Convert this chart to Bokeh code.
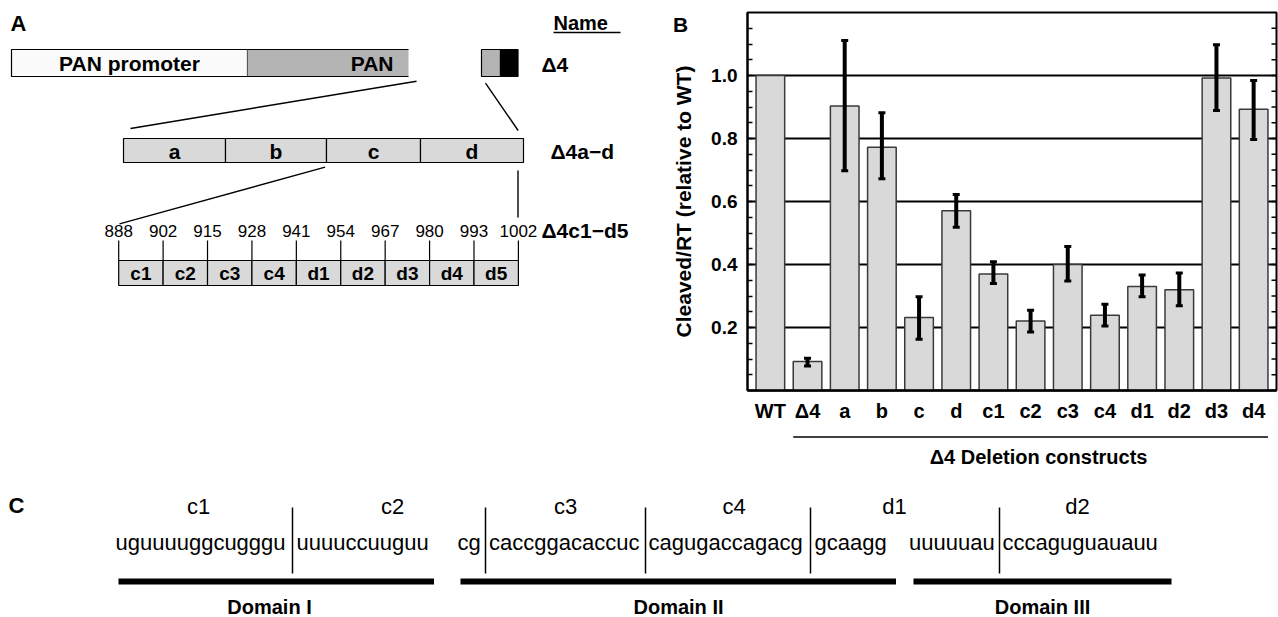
import math
from bokeh.plotting import figure
from bokeh.models import (ColumnDataSource, Range1d, FactorRange, FixedTicker,
                          Whisker, TeeHead, PrintfTickFormatter)
from bokeh.layouts import column, row
from bokeh.core.properties import value
from bokeh.embed import file_html
from bokeh.resources import INLINE

# ---------------- data ----------------
constructs = ["WT", "Δ4", "a", "b", "c", "d", "c1", "c2", "c3", "c4", "d1", "d2", "d3", "d4"]
cleaved = [1.00, 0.092, 0.903, 0.772, 0.232, 0.571, 0.370, 0.221, 0.400, 0.239, 0.330, 0.320, 0.992, 0.893]
err_low = [None, 0.078, 0.698, 0.672, 0.163, 0.518, 0.340, 0.186, 0.348, 0.205, 0.298, 0.269, 0.889, 0.797]
err_high = [None, 0.102, 1.111, 0.882, 0.298, 0.622, 0.409, 0.255, 0.457, 0.274, 0.367, 0.373, 1.098, 0.984]
y_tick_values = [0.2, 0.4, 0.6, 0.8, 1.0]
y_axis_title = "Cleaved/RT (relative to WT)"
x_group_title = "Δ4 Deletion constructs"

construct_row_names = ["Δ4", "Δ4a−d", "Δ4c1−d5"]
pan_parts = ["PAN promoter", "PAN"]
quarter_names = ["a", "b", "c", "d"]
sub_names = ["c1", "c2", "c3", "c4", "d1", "d2", "d3", "d4", "d5"]
sub_bounds = [888, 902, 915, 928, 941, 954, 967, 980, 993, 1002]

seq_labels = ["c1", "c2", "c3", "c4", "d1", "d2"]
seq_pieces = ["uguuuuggcugggu", "uuuuccuuguu", "cg", "caccggacaccuc",
              "cagugaccagacg", "gcaagg", "uuuuuau", "cccaguguauauu"]
domain_names = ["Domain I", "Domain II", "Domain III"]
panel_letters = ["A", "B", "C"]

# ---------------- layout / style constants ----------------
FONT = value("Liberation Sans")
PAGE_W, PAGE_H = 1278, 617
TOP_H = 434
A_W = 700
B_W = PAGE_W - A_W
B_LEFT, B_RIGHT, B_TOP, B_BOTTOM = 47, 2, 12, 44
PAD = 0.115          # category padding on each side
BAR_W = 0.77
Y_MAX = 1.2
BAR_FILL = "#d9d9d9"
PAN_FILL = "#b4b4b4"

frame_left = A_W + B_LEFT
frame_right = PAGE_W - B_RIGHT
ppu = (frame_right - frame_left) / (len(constructs) + 2 * PAD)
frame_top = B_TOP
frame_bottom = TOP_H - B_BOTTOM


def txt(p, xs, ys, labels, size, bold=False, align="center", baseline="middle", angle=0):
    p.text(x=xs, y=ys, text=labels, text_font=FONT, text_font_size=size,
           text_font_style="bold" if bold else "normal", text_align=align,
           text_baseline=baseline, text_color="black", angle=angle)


# ================= Panel A (plus B's letter and y title) =================
# same top/bottom borders as panel B, so the row's frame alignment keeps a 1:1 pixel map
fa = figure(width=A_W, height=TOP_H, x_range=Range1d(0, A_W),
            y_range=Range1d(frame_bottom, frame_top), toolbar_location=None,
            output_backend="svg", x_axis_location=None, y_axis_location=None,
            min_border_left=0, min_border_right=0,
            min_border_top=B_TOP, min_border_bottom=B_BOTTOM, title=None)
fa.grid.visible = False
fa.outline_line_color = None

txt(fa, [10], [22.5], [panel_letters[0]], "22px", bold=True, align="left")
txt(fa, [553], [22.5], ["Name"], "20px", bold=True, align="left")
fa.segment(x0=[553], x1=[620], y0=[32], y1=[32], line_color="black", line_width=1.5)

# PAN construct row
py0, py1 = 49, 76
pan_x = [11, 247, 408]
tail_x = [481, 500, 517.5]
fa.quad(left=[pan_x[0]], right=[pan_x[1]], top=[py0], bottom=[py1],
        fill_color="#fbfbfb", line_color="black", line_width=1.2)
fa.quad(left=[pan_x[1]], right=[pan_x[2]], top=[py0], bottom=[py1],
        fill_color=PAN_FILL, line_color=None)
fa.segment(x0=[pan_x[1]] * 2, x1=[pan_x[2]] * 2, y0=[py0, py1], y1=[py0, py1],
           line_color="black", line_width=1.2)
fa.quad(left=tail_x[:2], right=tail_x[1:], top=[py0] * 2, bottom=[py1] * 2,
        fill_color=[PAN_FILL, "black"], line_color="black", line_width=1.2)
txt(fa, [(pan_x[0] + pan_x[1]) / 2], [63], [pan_parts[0]], "21px", bold=True)
txt(fa, [393], [63], [pan_parts[1]], "21px", bold=True, align="right")

# names column
txt(fa, [541, 550, 541], [64, 150.5, 230], construct_row_names, "21px", bold=True, align="left")

# zoom lines
fa.segment(x0=[416, 485, 324.6, 517.5], y0=[80.7, 82.7, 166.7, 170],
           x1=[130, 517.6, 119, 517.5], y1=[128, 130, 223.3, 217],
           line_color="black", line_width=1.4)

# a-d row
qb = [123, 225, 326, 420, 523]
qy0, qy1 = 138, 162
fa.quad(left=qb[:-1], right=qb[1:], top=[qy0] * 4, bottom=[qy1] * 4,
        fill_color=BAR_FILL, line_color="black", line_width=1.2)
txt(fa, [(qb[i] + qb[i + 1]) / 2 for i in range(4)], [150.5] * 4, quarter_names, "21px", bold=True)

# c1-d5 row
sl, sr = 118.2, 517.9
n_sub = len(sub_names)
sx = [sl + k * (sr - sl) / n_sub for k in range(n_sub + 1)]
sy0, sy1 = 260, 285
fa.quad(left=sx[:-1], right=sx[1:], top=[sy0] * n_sub, bottom=[sy1] * n_sub,
        fill_color=BAR_FILL, line_color="black", line_width=1.2)
fa.segment(x0=sx, x1=sx, y0=[240] * len(sx), y1=[sy0] * len(sx), line_color="black", line_width=1.2)
txt(fa, sx, [230] * len(sx), [str(v) for v in sub_bounds], "17px")
txt(fa, [(sx[i] + sx[i + 1]) / 2 for i in range(n_sub)], [273] * n_sub, sub_names, "19px", bold=True)

# letter B and the y-axis title of panel B (left margin of panel B)
txt(fa, [672.5], [23.7], [panel_letters[1]], "21px", bold=True, align="left")
txt(fa, [683], [(frame_top + frame_bottom) / 2], [y_axis_title], "21px", bold=True,
    angle=math.pi / 2)

# ================= Panel B =================
fb = figure(width=B_W, height=TOP_H,
            x_range=FactorRange(factors=constructs, range_padding=2 * PAD / len(constructs)),
            y_range=Range1d(0, Y_MAX), toolbar_location=None, output_backend="svg",
            min_border_left=B_LEFT, min_border_right=B_RIGHT,
            min_border_top=B_TOP, min_border_bottom=B_BOTTOM, title=None)

minor = [round(0.05 * k, 2) for k in range(1, 24) if k % 4]
ly = fb.yaxis[0]
ly.ticker = FixedTicker(ticks=y_tick_values, minor_ticks=minor)
ly.formatter = PrintfTickFormatter(format="%.1f")
ly.major_tick_in = 5
ly.major_tick_out = 0
ly.minor_tick_in = 5
ly.minor_tick_out = 0
ly.major_tick_line_width = 1.5
ly.minor_tick_line_width = 1.5
ly.axis_line_width = 2
ly.major_label_standoff = 10
ly.major_label_text_font = "Liberation Sans"
ly.major_label_text_font_style = "bold"
ly.major_label_text_font_size = "19px"
ly.major_label_text_color = "black"

bx = fb.xaxis[0]
bx.major_tick_line_color = None
bx.minor_tick_line_color = None
bx.major_tick_in = 0
bx.major_tick_out = 0
bx.minor_tick_in = 0
bx.minor_tick_out = 0
bx.axis_line_width = 2.5
bx.major_label_standoff = 9
bx.major_label_text_font = "Liberation Sans"
bx.major_label_text_font_style = "bold"
bx.major_label_text_font_size = "20px"
bx.major_label_text_color = "black"

fb.xgrid.grid_line_color = None
fb.ygrid.ticker = FixedTicker(ticks=y_tick_values)
fb.ygrid.grid_line_color = "black"
fb.ygrid.grid_line_width = 2
fb.outline_line_color = "black"
fb.outline_line_width = 2

# inward ticks on the right frame edge
right_end = len(constructs) + PAD
all_ticks = sorted(y_tick_values + minor)
fb.ray(x=[right_end] * len(all_ticks), y=all_ticks, length=5, length_units="screen",
       angle=math.pi, line_color="black", line_width=1.5)

bar_src = ColumnDataSource(dict(x=constructs, top=cleaved))
fb.vbar(x="x", top="top", bottom=0, width=BAR_W, source=bar_src,
        fill_color=BAR_FILL, line_color="#3a3a3a", line_width=1.5)

idx = [i for i, v in enumerate(err_low) if v is not None]
err_src = ColumnDataSource(dict(x=[constructs[i] for i in idx],
                                lower=[err_low[i] for i in idx],
                                upper=[err_high[i] for i in idx]))
fb.add_layout(Whisker(source=err_src, base="x", lower="lower", upper="upper",
                      line_width=4, line_color="black", level="annotation",
                      upper_head=TeeHead(size=7, line_width=3, line_color="black"),
                      lower_head=TeeHead(size=7, line_width=3, line_color="black")))

# ================= Panel C (and B group caption) =================
fc = figure(width=PAGE_W, height=PAGE_H - TOP_H, x_range=Range1d(0, PAGE_W),
            y_range=Range1d(PAGE_H, TOP_H), toolbar_location=None, output_backend="svg",
            x_axis_location=None, y_axis_location=None, min_border=0, title=None)
fc.grid.visible = False
fc.outline_line_color = None

br_l = frame_left + (PAD + 1.5 - BAR_W / 2) * ppu
br_r = frame_left + (PAD + len(constructs) - 0.5 + BAR_W / 2) * ppu
fc.segment(x0=[br_l], x1=[br_r], y0=[436.5], y1=[436.5], line_color="black", line_width=1.5)
txt(fc, [(br_l + br_r) / 2 + 8], [456], [x_group_title], "20px", bold=True)

txt(fc, [8], [505], [panel_letters[2]], "22px", bold=True, align="left")
txt(fc, [198, 392, 565, 733.6, 894, 1077], [506] * 6, seq_labels, "22px")
txt(fc, [115, 296, 457, 488.6, 648, 814, 908.5, 1002], [542] * 8, seq_pieces, "22px",
    align="left")
divs = [292, 485, 645, 810, 999]
fc.segment(x0=divs, x1=divs, y0=[507] * 5, y1=[573] * 5, line_color="black", line_width=1.5)
dl = [118, 460, 913]
dr = [433.5, 895.5, 1171]
fc.segment(x0=dl, x1=dr, y0=[581] * 3, y1=[581] * 3, line_color="black", line_width=6)
txt(fc, [269, 678, 1042], [606] * 3, domain_names, "20px", bold=True)

layout = column(row(fa, fb), fc)
open("out.html", "w").write(file_html(layout, INLINE))
